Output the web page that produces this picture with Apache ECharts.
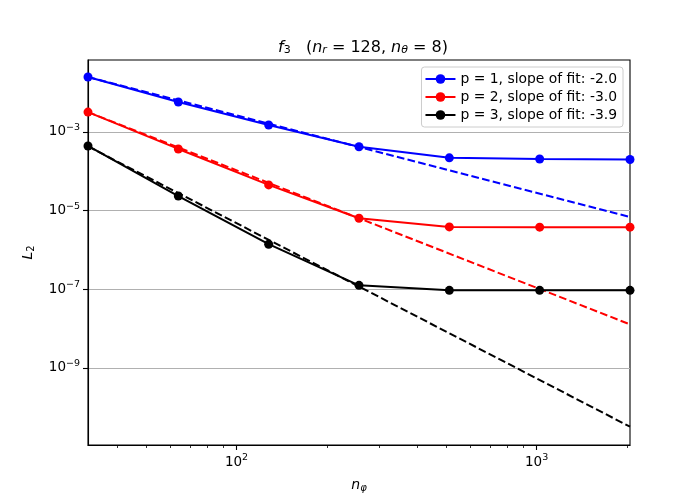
<!DOCTYPE html>
<html>
<head>
<meta charset="utf-8">
<script src="https://cdn.jsdelivr.net/npm/echarts@6/dist/echarts.min.js"></script>
<style>
  html, body { margin: 0; padding: 0; background: #fff; }
  #main { width: 700px; height: 500px; }
</style>
</head>
<body>
<div id="main"></div>
<script>
// n_phi values
const nPhi = [32, 64, 128, 256, 512, 1024, 2048];

const errP1 = [2.5e-2, 5.8e-3, 1.5e-3, 4.2e-4, 2.2e-4, 2.05e-4, 2.0e-4];
const errP2 = [3.2e-3, 3.7e-4, 4.5e-5, 6.4e-6, 3.85e-6, 3.8e-6, 3.8e-6];
const errP3 = [4.4e-4, 2.35e-5, 1.4e-6, 1.26e-7, 9.4e-8, 9.4e-8, 9.4e-8];

// fitted lines (straight in log-log), endpoints at 32 and 2048
const fitX = [32, 2048];
const fitP1 = [2.5e-2, 6.9e-6];
const fitP2 = [3.2e-3, 1.28e-8];
const fitP3 = [4.3e-4, 3.2e-11];

const legendNames = [
    'p = 1, slope of fit: -2.0',
    'p = 2, slope of fit: -3.0',
    'p = 3, slope of fit: -3.9'
];
const colors = ['#0000ff', '#ff0000', '#000000'];

// tick positions
const xMajorTicks = [100, 1000];
const xMinorTicks = [40, 50, 60, 70, 80, 90, 200, 300, 400, 500, 600, 700, 800, 900, 2000];
const yMajorTicks = [1e-9, 1e-7, 1e-5, 1e-3];

const xMin = 32, xMax = 2048;
const yMin = Math.pow(10, -10.96), yMax = Math.pow(10, -1.17);

const chart = echarts.init(document.getElementById('main'));

function powLabel(v) {
    const e = Math.round(Math.log10(v));
    return '10{sup|' + (e < 0 ? '\u2212' + (-e) : e) + '}';
}
const tickRich = {
    sup: { fontSize: 9.5, verticalAlign: 'top', padding: [0, 0, 9, 0], color: '#000', fontFamily: 'DejaVu Sans' }
};

function pairs(xs, ys) {
    return xs.map((x, i) => [x, ys[i]]);
}

const errs = [errP1, errP2, errP3];
const fits = [fitP1, fitP2, fitP3];

const series = [];
// dashed fits first (drawn below)
fits.forEach((f, i) => {
    series.push({
        type: 'line',
        name: 'fit' + i,
        data: pairs(fitX, f),
        showSymbol: false,
        symbol: 'none',
        lineStyle: { color: colors[i], width: 2, type: [7.7, 3.3] },
        silent: true,
        animation: false,
        z: 2
    });
});
errs.forEach((e, i) => {
    series.push({
        type: 'line',
        name: legendNames[i],
        data: pairs(nPhi, e),
        symbol: 'circle',
        symbolSize: 9,
        itemStyle: { color: colors[i] },
        lineStyle: { color: colors[i], width: 2 },
        animation: false,
        z: 3
    });
});

const italicSub = { fontSize: 11, fontStyle: 'italic', verticalAlign: 'bottom', padding: [6, 0, 0, 0], fontFamily: 'DejaVu Sans', color: '#000' };

chart.setOption({
    backgroundColor: '#fff',
    textStyle: { fontFamily: 'DejaVu Sans' },
    title: {
        text: '{i|f}{s|3}   ({i|n}{si|r} = 128, {i|n}{si|θ} = 8)',
        left: 358,
        top: 34,
        textAlign: 'center',
        textStyle: {
            fontSize: 16,
            fontWeight: 'normal',
            color: '#000',
            rich: {
                t: { fontSize: 16, fontFamily: 'DejaVu Sans', color: '#000' },
                i: { fontSize: 16, fontStyle: 'italic', fontFamily: 'DejaVu Sans', color: '#000' },
                s: { fontSize: 11, verticalAlign: 'bottom', padding: [6, 0, 0, 0], fontFamily: 'DejaVu Sans', color: '#000' },
                si: italicSub
            }
        }
    },
    legend: {
        data: legendNames,
        right: 77,
        top: 67,
        orient: 'vertical',
        itemWidth: 30,
        itemHeight: 12,
        itemGap: 4,
        padding: [5, 6, 5, 3],
        backgroundColor: 'rgba(255,255,255,0.8)',
        borderColor: '#cccccc',
        borderWidth: 1,
        borderRadius: 3,
        textStyle: { fontSize: 13.9, color: '#000', fontFamily: 'DejaVu Sans' }
    },
    grid: {
        left: 88, right: 70, top: 60, bottom: 55,
        show: true,
        borderColor: '#000',
        borderWidth: 1.1,
        backgroundColor: 'transparent'
    },
    xAxis: [{
        type: 'log',
        logBase: 10,
        min: xMin,
        max: xMax,
        name: '{i|n}{s|φ}',
        nameLocation: 'middle',
        nameGap: 32,
        nameTextStyle: {
            rich: {
                i: { fontSize: 14, fontStyle: 'italic', fontFamily: 'DejaVu Sans', color: '#000' },
                s: { fontSize: 10, fontStyle: 'italic', verticalAlign: 'bottom', padding: [6, 0, 0, 0], fontFamily: 'DejaVu Sans', color: '#000' }
            }
        },
        axisLine: { show: true, lineStyle: { color: '#000', width: 1.1 } },
        axisTick: { show: true, inside: false, length: 5, customValues: xMajorTicks, lineStyle: { color: '#000', width: 1.1 } },
        axisLabel: {
            customValues: xMajorTicks,
            formatter: powLabel,
            color: '#000',
            fontSize: 13.5,
            margin: 8,
            rich: tickRich
        },
        splitLine: { show: false }
    }, {
        // minor ticks only
        type: 'log',
        logBase: 10,
        min: xMin,
        max: xMax,
        position: 'bottom',
        axisLine: { show: false },
        axisTick: { show: true, inside: false, length: 3, customValues: xMinorTicks, lineStyle: { color: '#000', width: 0.8 } },
        axisLabel: { show: false, customValues: xMinorTicks },
        splitLine: { show: false }
    }],
    yAxis: {
        type: 'log',
        logBase: 10,
        min: yMin,
        max: yMax,
        name: '{i|L}{s|2}',
        nameLocation: 'middle',
        nameGap: 52,
        nameRotate: 90,
        nameTextStyle: {
            rich: {
                i: { fontSize: 14, fontStyle: 'italic', fontFamily: 'DejaVu Sans', color: '#000' },
                s: { fontSize: 10, verticalAlign: 'bottom', padding: [6, 0, 0, 0], fontFamily: 'DejaVu Sans', color: '#000' }
            }
        },
        axisLine: { show: true, lineStyle: { color: '#000', width: 1.1 } },
        axisTick: { show: true, inside: false, length: 5, customValues: yMajorTicks, lineStyle: { color: '#000', width: 1.1 } },
        axisLabel: {
            customValues: yMajorTicks,
            formatter: powLabel,
            color: '#000',
            fontSize: 13.5,
            margin: 8,
            rich: tickRich
        },
        splitLine: { show: true, lineStyle: { color: '#b0b0b0', width: 1.1 } }
    },
    series: series
});
</script>
</body>
</html>
